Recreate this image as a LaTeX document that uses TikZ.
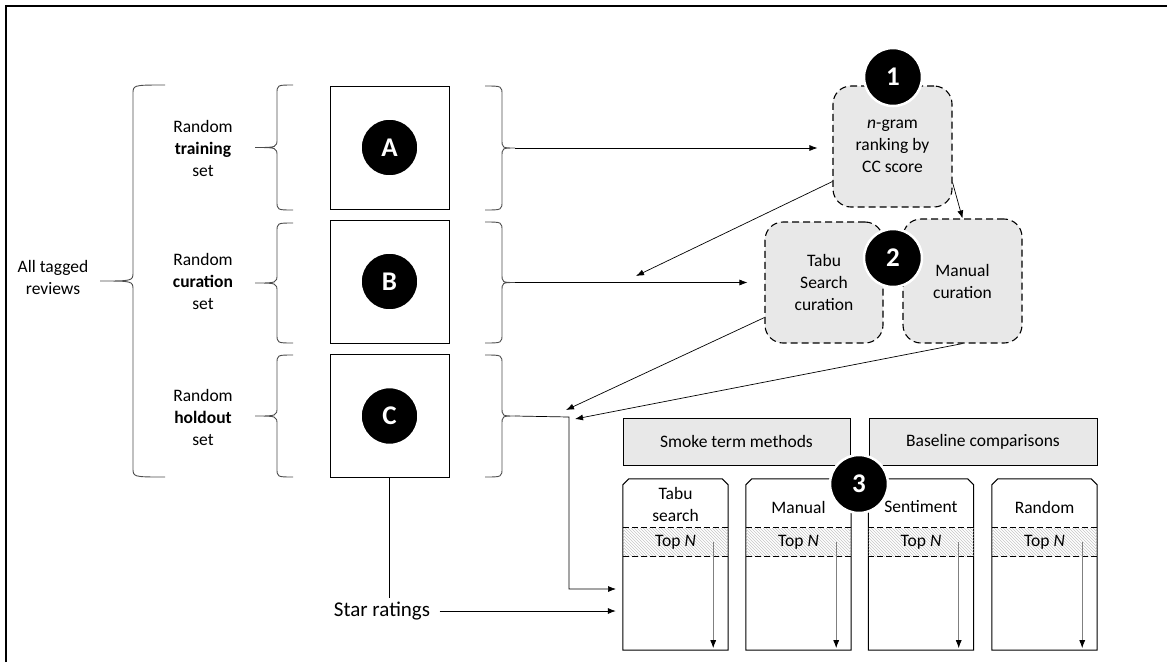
\documentclass[tikz,border=0pt]{standalone}
\usepackage{fontspec}
\setmainfont{Carlito}
\usepackage{tikz}
\usetikzlibrary{positioning,arrows.meta,patterns}

\newcommand{\curly}[6]{%
  \draw[bracket] (#1,#4) .. controls (#2,#4) .. (#2,{#4+9})
    -- (#2,{(#4+#5)/2-9}) .. controls (#2,{(#4+#5)/2}) .. (#3,{(#4+#5)/2}) coordinate (#6)
    .. controls (#2,{(#4+#5)/2}) .. (#2,{(#4+#5)/2+9})
    -- (#2,{#5-9}) .. controls (#2,#5) .. (#1,#5);}

\begin{document}
\begin{tikzpicture}[x=1pt, y=-1pt, font=\fontsize{17.5}{22}\selectfont,
    setbox/.style={draw, line width=1pt, minimum width=119pt, minimum height=123pt, inner sep=0pt},
    badge/.style={circle, fill=black, draw=white, line width=2.5pt, minimum size=58pt, inner sep=0pt,
                  text=white, font=\fontsize{27}{27}\selectfont\bfseries},
    stagebox/.style={draw, dash pattern=on 7pt off 4pt, line width=1.1pt, rounded corners=18pt,
                     fill=gray!18, minimum width=119pt, minimum height=121pt, align=center, inner sep=2pt},
    groupbox/.style={draw, line width=1pt, fill=gray!18, minimum width=227pt, minimum height=47pt},
    colbox/.style={minimum width=105pt, minimum height=171pt, inner sep=0pt},
    band/.style={pattern=north west lines, pattern color=gray!45, minimum width=105pt,
                 minimum height=28pt, inner sep=0pt},
    lbl/.style={align=center},
    bracket/.style={draw=gray!60!black, line width=0.9pt},
    link/.style={-{Latex[length=8pt,width=6pt]}, line width=0.7pt}]

    \useasboundingbox (0,0) rectangle (1167,662);
    \draw[line width=2.5pt] (6,662) -- (6,6) -- (1167,6);

    % sets of reviews
    \node[lbl] (all) at (53,277) {All tagged\\reviews};
    \node[lbl] (train) at (203,148) {Random\\\textbf{training}\\set};
    \node[lbl] (cur) at (203,281) {Random\\\textbf{curation}\\set};
    \node[lbl] (hold) at (203,417) {Random\\\textbf{holdout}\\set};

    \node[setbox] (A) at (389.5,147.5) {};
    \node[setbox] (B) at (389.5,281.5) {};
    \node[setbox] (C) at (389.5,416) {};
    \node[badge] (a1) at (A) {A};
    \node[badge] (b1) at (B) {B};
    \node[badge] (c1) at (C) {C};

    \curly{165}{133}{100}{85}{477}{allTip}
    \curly{293}{277}{255}{85}{210}{trL}
    \curly{293}{277}{255}{223}{343}{cuL}
    \curly{293}{277}{255}{355}{477}{hoL}
    \curly{485}{502}{515}{86}{210}{tA}
    \curly{485}{502}{515}{222}{343}{tB}
    \curly{485}{502}{515}{355}{477}{tC}

    % stages
    \node[stagebox] (ngram) at (892.5,146.5) {\textit{n}-gram\\ranking by\\CC score};
    \node[stagebox, minimum width=118pt] (tabu) at (824,282.5) {Tabu\\Search\\curation};
    \node[stagebox, minimum height=124pt] (manual) at (962.5,281) {Manual\\curation};

    % evaluation columns
    \node[groupbox] (smoke) at (736.5,441.5) {Smoke term methods};
    \node[groupbox, minimum width=228pt] (base) at (983,441.5) {Baseline comparisons};

    \foreach \name/\x/\y/\title in {col1/675.5/504/{Tabu\\search}, col2/798.5/507/Manual,
                                    col3/921/507/Sentiment, col4/1044.5/507/Random} {
        \node[colbox] (\name) at (\x,564.5) {};
        \draw[line width=1pt] (\name.south west) -- ([yshift=-6pt]\name.north west)
            -- ([xshift=6pt]\name.north west) -- ([xshift=-6pt]\name.north east)
            -- ([yshift=-6pt]\name.north east) -- (\name.south east) -- cycle;
        \node[band] (\name N) at (\x,542) {Top \textit{N}};
        \draw[dash pattern=on 6pt off 3pt, line width=0.9pt] (\name N.north west) -- (\name N.north east)
            (\name N.south west) -- (\name N.south east);
        \node[lbl] (\name t) at (\x,\y) {\title};
        \draw[gray, line width=0.8pt, -{Latex[length=8pt,width=6pt,black]}, shorten >=2pt]
            ([xshift=-15pt]\name N.east) -- ([xshift=-15pt]\name.south east);
    }

    \node[badge] (s1) at (893,77) {1};
    \node[badge] (s2) at (893,258) {2};
    \node[badge] (s3) at (859,484) {3};

    % connectors
    \coordinate (midB) at (636,276);
    \coordinate (bend) at (569,417);
    \coordinate (hA) at (566,410);
    \coordinate (hB) at (575,419);
    \coordinate (hin) at (623,589);

    \draw[link, shorten >=15pt] (tA) -- (tA -| ngram.west);
    \draw[link, shorten >=17pt] (tB) -- (tB -| tabu.west);
    \draw[link] ([yshift=-35pt]ngram.west) -- (midB);
    \draw[link] ([yshift=-36pt]ngram.east) -- (manual.north);
    \draw[link] ([yshift=-35pt]tabu.west) -- (hA);
    \draw[link] (manual.south) -- (hB);
    \draw[link, shorten >=7pt] (tC) -- (bend) |- (hin);

    \node[font=\fontsize{21}{24}\selectfont] (star) at (382,611) {Star ratings};
    \draw[line width=0.7pt] (C.south) -- (C.south |- star.north);
    \draw[link, shorten <=6pt, shorten >=7pt] (star.east) -- (star.east -| col1.west);

\end{tikzpicture}
\end{document}
